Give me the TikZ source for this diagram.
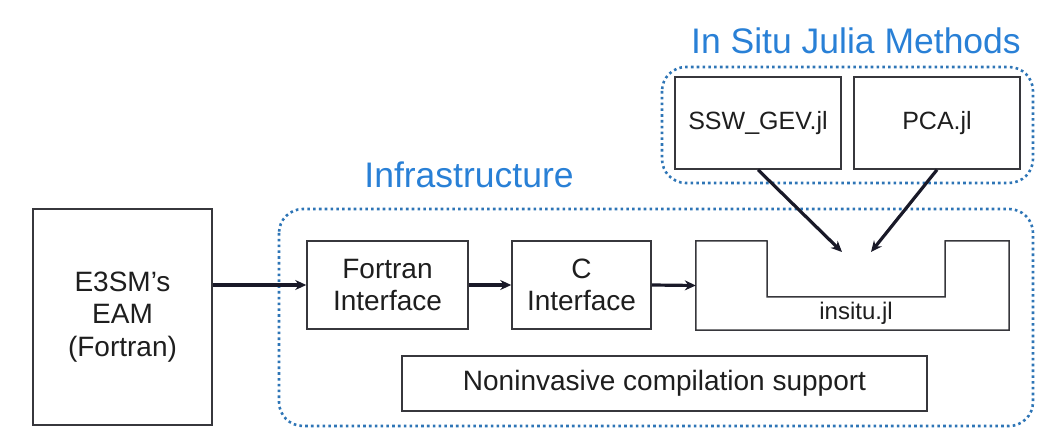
\documentclass[tikz,border=0pt]{standalone}
\usepackage{fontspec}
\setmainfont{Liberation Sans}
\usetikzlibrary{arrows.meta,calc}
\definecolor{titleblue}{RGB}{41,128,214}
\definecolor{dotblue}{RGB}{46,117,182}
\definecolor{boxgray}{RGB}{55,55,60}
\definecolor{arrowdark}{RGB}{25,25,40}
\definecolor{txt}{RGB}{30,30,30}
\tikzset{
  boxstyle/.style={draw=boxgray, line width=1.5pt, fill=white, inner sep=0pt,
    align=center, text=txt, font=\fontsize{25}{32}\selectfont},
  bigtext/.style={font=\fontsize{28}{32.5}\selectfont},
  grouping/.style={draw=dotblue, line width=2.6pt, dash pattern=on 2.6pt off 3.2pt, rounded corners=24pt},
  titletext/.style={text=titleblue, font=\fontsize{35.5}{40}\selectfont, anchor=base, inner sep=0pt},
  flow/.style={draw=arrowdark, line width=3.2pt, -{Stealth[length=11pt,width=10pt]}},
}
\begin{document}
\begin{tikzpicture}[x=1pt,y=-1pt]
\useasboundingbox (0,0) rectangle (1052,446);
% groups
\draw[grouping] (662,67) rectangle (1033,183);
\draw[grouping] (279,209) rectangle (1033,426);
% titles
\node[titletext] (t-julia) at (856,54) {In Situ Julia Methods};
\node[titletext] (t-infra) at (469,188) {Infrastructure};
% boxes
\node[boxstyle, bigtext, minimum width=179pt, minimum height=216pt] (eam) at (122.5,317) {E3SM’s\\EAM\\(Fortran)};
\node[boxstyle, bigtext, minimum width=161pt, minimum height=88pt] (fort) at (387.5,285) {Fortran\\Interface};
\node[boxstyle, bigtext, minimum width=139pt, minimum height=88pt] (cint) at (581.5,285) {C\\Interface};
\node[boxstyle, minimum width=166pt, minimum height=92pt] (ssw) at (758,123) {SSW\_GEV.jl};
\node[boxstyle, minimum width=166pt, minimum height=92pt] (pca) at (937,123) {PCA.jl};
\node[boxstyle, bigtext, minimum width=525pt, minimum height=55pt] (nonin) at (664.5,383.5) {Noninvasive compilation support};
% insitu.jl notched shape
\node[inner sep=0pt, minimum width=313pt, minimum height=89pt] (insitu) at (852.5,285.5) {};
\draw[draw=boxgray, line width=1.5pt]
  (insitu.north west) -- (767,241) -- (767,297) -- (945,297) -- (945,241)
  -- (insitu.north east) -- (insitu.south east) -- (insitu.south west) -- cycle;
\node[text=txt, font=\fontsize{24}{28}\selectfont, inner sep=0pt] (insitu-label) at (856,313) {insitu.jl};
% arrow targets
\coordinate (tip1) at (842,252);
\coordinate (tip2) at (871,252);
% connectors
\draw[flow] (eam.east |- fort.west) -- (fort.west);
\draw[flow] (fort.east) -- (cint.west);
\draw[flow] (cint.east) -- (insitu.west);
\draw[flow] (ssw.south) -- (tip1);
\draw[flow] (pca.south) -- (tip2);
\end{tikzpicture}
\end{document}
